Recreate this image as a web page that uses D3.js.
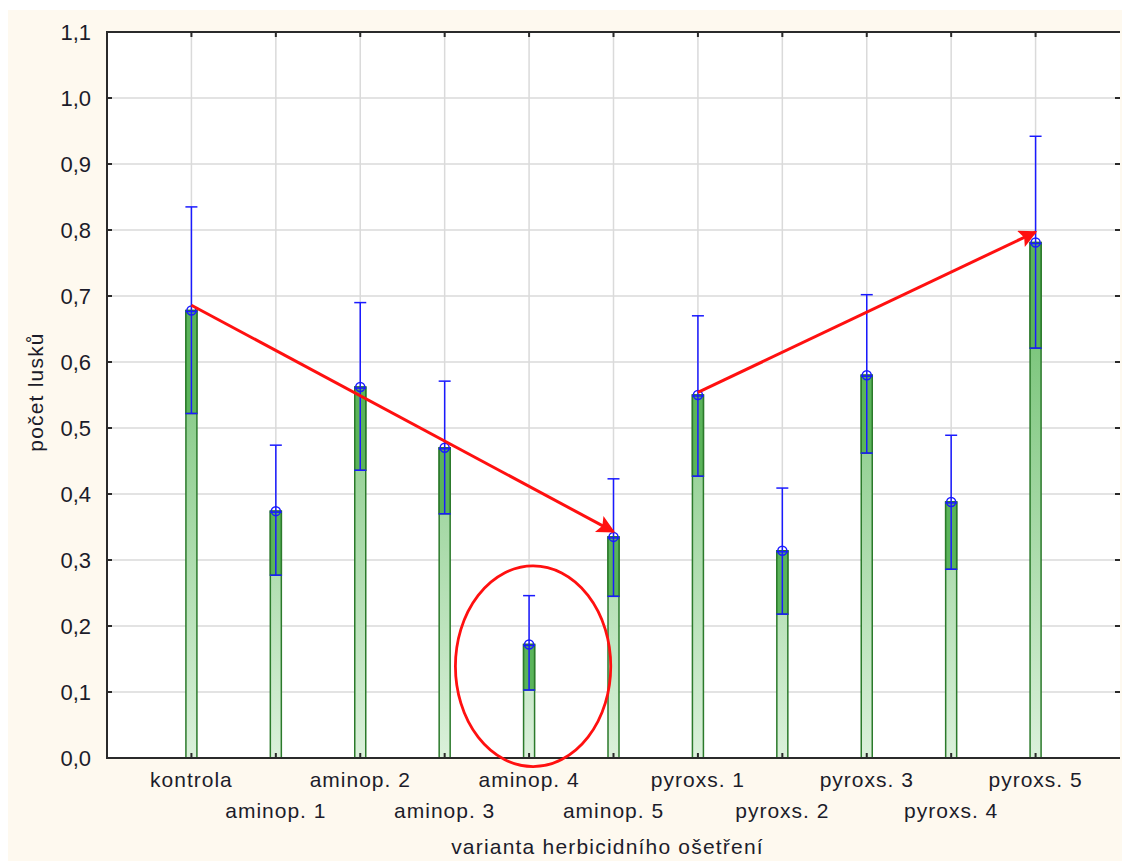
<!DOCTYPE html>
<html>
<head>
  <meta charset="utf-8">
  <title>Počet lusků</title>
  <style>
    html, body { margin: 0; padding: 0; background: #fff; overflow: hidden; }
    svg { display: block; font-family: "Liberation Sans", Arial, sans-serif; }
    .x-label { font-size: 21px; letter-spacing: 1px; fill: #1c1c2a; }
    .y-label { font-size: 22px; fill: #1c1c2a; }
    .axis-title { font-size: 21px; letter-spacing: 1.2px; fill: #1c1c2a; }
    .grid line { stroke: #dadada; stroke-width: 1.5; }
  </style>
</head>
<body>
  <script src="https://d3js.org/d3.v7.min.js"></script>
  <script>
    // values
    const categories = ["kontrola", "aminop. 1", "aminop. 2", "aminop. 3", "aminop. 4", "aminop. 5",
                        "pyroxs. 1", "pyroxs. 2", "pyroxs. 3", "pyroxs. 4", "pyroxs. 5"];
    const means = [0.678, 0.374, 0.562, 0.470, 0.172, 0.335, 0.550, 0.314, 0.580, 0.388, 0.781];
    const lower = [0.522, 0.277, 0.436, 0.370, 0.103, 0.245, 0.427, 0.218, 0.462, 0.286, 0.621];
    const upper = [0.835, 0.474, 0.690, 0.571, 0.246, 0.423, 0.670, 0.409, 0.702, 0.489, 0.942];
    const yTicks = [0, 0.1, 0.2, 0.3, 0.4, 0.5, 0.6, 0.7, 0.8, 0.9, 1.0, 1.1];
    // annotation arrows: [from category, from value, to category, to value]
    const arrows = [
      ["kontrola", 0.686, "aminop. 5", 0.343],
      ["pyroxs. 1", 0.554, "pyroxs. 5", 0.797]
    ];
    const circled = { category: "aminop. 4", value: 0.139, halfSpan: 0.152 };

    const width = 1122, height = 863;
    const margin = { top: 32, right: 2, bottom: 105, left: 107 };
    const innerWidth = width - margin.left - margin.right;
    const innerHeight = height - margin.top - margin.bottom;

    const svg = d3.select("body").append("svg")
      .attr("width", width)
      .attr("height", height);

    // cream panel
    svg.append("rect")
      .attr("x", 8).attr("y", 10)
      .attr("width", width - 8).attr("height", height - 12)
      .attr("fill", "#fef9ef");

    const defs = svg.append("defs");
    const grad = defs.append("linearGradient")
      .attr("id", "barGrad")
      .attr("gradientUnits", "userSpaceOnUse")
      .attr("x1", 0).attr("x2", 0)
      .attr("y1", margin.top + innerHeight * 0.3).attr("y2", margin.top + innerHeight);
    grad.append("stop").attr("offset", "0%").attr("stop-color", "#6fc06f");
    grad.append("stop").attr("offset", "100%").attr("stop-color", "#e2f4e2");

    defs.append("marker")
      .attr("id", "arrowHead")
      .attr("viewBox", "0 0 10 10")
      .attr("refX", 9).attr("refY", 5)
      .attr("markerWidth", 8).attr("markerHeight", 6)
      .attr("markerUnits", "strokeWidth")
      .attr("orient", "auto")
      .append("path")
      .attr("d", "M0,0 L10,5 L0,10 L2,5 Z")
      .attr("fill", "#ff1010");

    const g = svg.append("g")
      .attr("transform", `translate(${margin.left},${margin.top})`);

    g.append("rect")
      .attr("width", innerWidth).attr("height", innerHeight)
      .attr("fill", "#fff");

    const x = d3.scalePoint()
      .domain(categories)
      .range([0, innerWidth])
      .padding(1);

    const y = d3.scaleLinear()
      .domain([0, 1.1])
      .range([innerHeight, 0]);

    // grid
    const grid = g.append("g").attr("class", "grid");
    grid.selectAll(".h").data(yTicks.slice(1, -1)).enter().append("line")
      .attr("x1", 0).attr("x2", innerWidth)
      .attr("y1", d => y(d)).attr("y2", d => y(d));
    grid.selectAll(".v").data(categories).enter().append("line")
      .attr("x1", d => x(d)).attr("x2", d => x(d))
      .attr("y1", 0).attr("y2", innerHeight);

    const barW = 11;
    const data = categories.map((c, i) => ({ c, m: means[i], lo: lower[i], hi: upper[i] }));

    // bars
    g.selectAll(".bar").data(data).enter().append("rect")
      .attr("x", d => x(d.c) - barW / 2)
      .attr("y", d => y(d.m))
      .attr("width", barW)
      .attr("height", d => innerHeight - y(d.m))
      .attr("fill", "url(#barGrad)")
      .attr("stroke", "#2b7a2b")
      .attr("stroke-width", 1.5);

    // darker band between lower limit and mean
    g.selectAll(".band").data(data).enter().append("rect")
      .attr("x", d => x(d.c) - barW / 2)
      .attr("y", d => y(d.m))
      .attr("width", barW)
      .attr("height", d => y(d.lo) - y(d.m))
      .attr("fill", "#5ab45a")
      .attr("stroke", "#2b7a2b")
      .attr("stroke-width", 1.5);

    // error bars
    const eb = g.selectAll(".err").data(data).enter().append("g")
      .attr("stroke", "#1a1aff")
      .attr("stroke-width", 1.5)
      .attr("fill", "none");
    eb.append("line")
      .attr("x1", d => x(d.c)).attr("x2", d => x(d.c))
      .attr("y1", d => y(d.hi)).attr("y2", d => y(d.lo));
    eb.append("line")
      .attr("x1", d => x(d.c) - 6).attr("x2", d => x(d.c) + 6)
      .attr("y1", d => y(d.hi)).attr("y2", d => y(d.hi));
    eb.append("line")
      .attr("x1", d => x(d.c) - 6).attr("x2", d => x(d.c) + 6)
      .attr("y1", d => y(d.lo)).attr("y2", d => y(d.lo));
    eb.append("line")
      .attr("x1", d => x(d.c) - 6).attr("x2", d => x(d.c) + 6)
      .attr("y1", d => y(d.m) + 1).attr("y2", d => y(d.m) + 1);
    eb.append("circle")
      .attr("cx", d => x(d.c)).attr("cy", d => y(d.m))
      .attr("r", 4.5);

    // frame
    g.append("path")
      .attr("d", `M${innerWidth},0 H0 V${innerHeight} H${innerWidth}`)
      .attr("fill", "none")
      .attr("stroke", "#2a2a2a")
      .attr("stroke-width", 2);

    // inward ticks
    const ticks = g.append("g").attr("stroke", "#2a2a2a").attr("stroke-width", 2);
    ticks.selectAll(".yl").data(yTicks).enter().append("line")
      .attr("x1", 0).attr("x2", 5).attr("y1", d => y(d)).attr("y2", d => y(d));
    ticks.selectAll(".yr").data(yTicks).enter().append("line")
      .attr("x1", innerWidth - 5).attr("x2", innerWidth).attr("y1", d => y(d)).attr("y2", d => y(d));
    ticks.selectAll(".xb").data(categories).enter().append("line")
      .attr("x1", d => x(d)).attr("x2", d => x(d)).attr("y1", innerHeight).attr("y2", innerHeight - 5);
    ticks.selectAll(".xt").data(categories).enter().append("line")
      .attr("x1", d => x(d)).attr("x2", d => x(d)).attr("y1", 0).attr("y2", 5);

    // y tick labels (page coordinates)
    svg.selectAll(".ylab").data(yTicks).enter().append("text")
      .attr("class", "y-label")
      .attr("x", margin.left - 16)
      .attr("y", d => margin.top + y(d) + 8)
      .attr("text-anchor", "end")
      .text(d => d3.format(".1f")(d).replace(".", ","));

    // x tick labels, staggered
    svg.selectAll(".xlab").data(categories).enter().append("text")
      .attr("class", "x-label")
      .attr("x", d => margin.left + x(d))
      .attr("y", (d, i) => margin.top + innerHeight + (i % 2 === 0 ? 29 : 60))
      .attr("text-anchor", "middle")
      .text(d => d);

    // axis titles
    svg.append("text")
      .attr("class", "axis-title")
      .attr("x", margin.left + innerWidth / 2 - 6)
      .attr("y", margin.top + innerHeight + 96)
      .attr("text-anchor", "middle")
      .text("varianta herbicidního ošetření");

    svg.append("text")
      .attr("class", "axis-title")
      .attr("transform", `translate(${margin.left - 64},${margin.top + innerHeight / 2 - 3}) rotate(-90)`)
      .attr("text-anchor", "middle")
      .text("počet lusků");

    // annotations
    const ann = svg.append("g")
      .attr("transform", `translate(${margin.left},${margin.top})`);
    ann.selectAll(".arrow").data(arrows).enter().append("line")
      .attr("x1", d => x(d[0])).attr("y1", d => y(d[1]))
      .attr("x2", d => x(d[2])).attr("y2", d => y(d[3]))
      .attr("stroke", "#ff1010")
      .attr("stroke-width", 3)
      .attr("marker-end", "url(#arrowHead)");

    ann.append("ellipse")
      .attr("cx", x(circled.category) + 4)
      .attr("cy", y(circled.value))
      .attr("rx", x.step() * 0.92)
      .attr("ry", y(0) - y(circled.halfSpan))
      .attr("fill", "none")
      .attr("stroke", "#ff1010")
      .attr("stroke-width", 2.8);
  </script>
</body>
</html>
